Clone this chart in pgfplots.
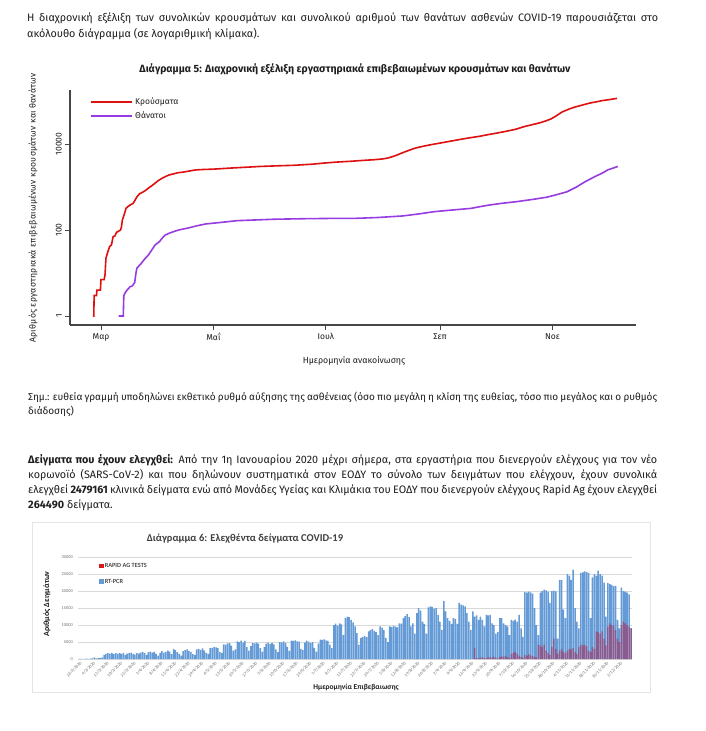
\documentclass[border=0pt]{standalone}
\usepackage{fontspec}
\setmainfont{Fira Sans}
\newfontfamily\spacedf[LetterSpace=3]{Fira Sans}
\newfontfamily\carlito{Carlito}
\usepackage{pgfplots}
\pgfplotsset{compat=1.18}
\usepackage{pgfplotstable}
\definecolor{txt}{RGB}{30,30,30}
\definecolor{axgray}{RGB}{70,70,70}
\definecolor{casered}{RGB}{222,16,16}
\definecolor{deathpurple}{RGB}{150,60,225}
\definecolor{barblue}{RGB}{100,155,215}
\definecolor{rapidred}{RGB}{175,30,75}
\definecolor{legred}{RGB}{215,25,30}
\definecolor{gridgray}{RGB}{217,217,217}
\definecolor{labgray}{RGB}{110,110,110}

\pgfplotstableread[row sep=\\]{
d v\\
0 30\\ 1 20\\ 2 40\\ 3 60\\ 4 90\\ 5 60\\ 6 120\\ 7 150\\ 8 500\\ 9 200\\ 10 300\\ 11 250\\ 12 450\\
13 1200\\ 14 1500\\ 15 1700\\ 16 1600\\ 17 1800\\ 18 1400\\ 19 1700\\ 20 1600\\ 21 1700\\ 22 1500\\
23 1800\\ 24 1200\\ 25 1600\\ 26 1700\\ 27 1900\\ 28 1500\\ 29 1300\\ 30 1700\\ 31 1600\\ 32 1900\\
33 2100\\ 34 1800\\ 35 1200\\ 36 2000\\ 37 2200\\ 38 1900\\ 39 2100\\ 40 1500\\ 41 1000\\ 42 1800\\
43 2300\\ 44 1900\\ 45 2100\\ 46 2500\\ 47 2200\\ 48 1400\\ 49 3000\\ 50 2600\\
51 2000\\ 52 1500\\ 53 1000\\ 54 2300\\ 55 2600\\ 56 2800\\ 57 2400\\ 58 2100\\ 59 1400\\ 60 1200\\
61 2800\\ 62 3000\\ 63 2700\\ 64 3100\\ 65 2500\\ 66 1800\\ 67 1500\\ 68 3200\\ 69 3300\\
70 3500\\ 71 3400\\ 72 3200\\ 73 2000\\ 74 1800\\
75 4300\\ 76 4200\\ 77 4600\\ 78 4700\\ 79 3900\\ 80 2500\\ 81 2800\\
82 5200\\ 83 5000\\ 84 5400\\ 85 4800\\ 86 5300\\ 87 3500\\ 88 2500\\ 89 3800\\
90 4700\\ 91 4600\\ 92 4800\\ 93 4500\\ 94 3200\\ 95 2200\\ 96 3500\\
97 4500\\ 98 4800\\ 99 4400\\ 100 4700\\ 101 4300\\ 102 2800\\ 103 2000\\
104 5000\\ 105 4900\\ 106 5200\\ 107 4700\\ 108 3600\\ 109 2400\\
110 5400\\ 111 5300\\ 112 5500\\ 113 5200\\ 114 5100\\ 115 3000\\ 116 2600\\
117 4800\\ 118 5400\\ 119 5100\\ 120 4700\\ 121 5000\\ 122 3300\\ 123 2200\\ 124 4500\\
125 5700\\ 126 5600\\ 127 5800\\ 128 5500\\ 129 5300\\ 130 4200\\ 131 3200\\
132 10000\\ 133 10400\\ 134 9800\\ 135 10500\\ 136 10200\\ 137 7000\\
138 12000\\ 139 12500\\ 140 12300\\ 141 11500\\ 142 10800\\ 143 9600\\
144 7600\\ 145 4200\\ 146 6200\\ 147 6500\\ 148 6700\\ 149 6400\\
150 8100\\ 151 8500\\ 152 8800\\ 153 8300\\ 154 7900\\ 155 7000\\ 156 9600\\ 157 9200\\ 158 8500\\ 159 6200\\ 160 5000\\
161 9600\\ 162 9400\\ 163 9700\\ 164 9500\\ 165 9300\\ 166 10500\\ 167 10400\\
168 12000\\ 169 12600\\ 170 13200\\ 171 12300\\ 172 9600\\ 173 10500\\ 174 7500\\
175 13500\\ 176 15000\\ 177 14200\\ 178 11000\\ 179 10300\\ 180 7500\\
181 15200\\ 182 15500\\ 183 15300\\ 184 14800\\ 185 15000\\ 186 13000\\ 187 11000\\ 188 8600\\
189 17000\\ 190 14000\\ 191 12000\\ 192 11200\\ 193 10300\\ 194 12000\\ 195 11800\\ 196 10300\\
197 16500\\ 198 16000\\ 199 15800\\ 200 15500\\ 201 13500\\ 202 11000\\ 203 8600\\
204 14000\\ 205 12500\\ 206 12800\\ 207 11500\\ 208 12500\\ 209 11500\\ 210 9600\\
211 13000\\ 212 12800\\ 213 13000\\ 214 10500\\ 215 10000\\ 216 7500\\ 217 8000\\
218 12000\\ 219 12000\\ 220 10500\\ 221 10000\\ 222 9600\\ 223 7000\\
224 11500\\ 225 11200\\ 226 11600\\ 227 11000\\ 228 13000\\ 229 9000\\ 230 6500\\
231 19700\\ 232 19500\\ 233 19800\\ 234 19600\\ 235 19200\\ 236 15000\\ 237 10000\\ 238 7000\\
239 19500\\ 240 20000\\ 241 20400\\ 242 20200\\ 243 19800\\ 244 16500\\
245 20000\\ 246 20100\\ 247 19900\\ 248 6000\\
249 23300\\ 250 23200\\ 251 14500\\ 252 12000\\
253 25000\\ 254 24500\\ 255 23300\\ 256 26300\\ 257 15000\\ 258 11000\\ 259 9000\\
260 25300\\ 261 25500\\ 262 25800\\ 263 25600\\ 264 25300\\ 265 12000\\
266 24000\\ 267 25000\\ 268 24500\\ 269 26000\\ 270 25000\\ 271 24500\\ 272 22500\\
273 12500\\ 274 22300\\ 275 22000\\ 276 21800\\ 277 21400\\ 278 21500\\ 279 11500\\ 280 9000\\
281 21000\\ 282 20000\\ 283 19800\\ 284 19500\\ 285 19000\\ 286 9100\\
}\rtpcr

\pgfplotstableread[row sep=\\]{
d v\\
205 3200\\ 206 300\\ 207 200\\ 208 400\\ 209 500\\ 210 300\\ 211 200\\ 212 500\\ 213 600\\ 214 400\\
215 700\\ 216 300\\ 217 200\\ 218 600\\ 219 800\\ 220 700\\ 221 900\\ 222 500\\ 223 300\\ 224 1500\\
225 1800\\ 226 2200\\ 227 1600\\ 228 1000\\ 229 600\\ 230 400\\ 231 1200\\ 232 1000\\ 233 1400\\ 234 1100\\
235 900\\ 236 600\\ 237 500\\ 238 4200\\ 239 4000\\ 240 3500\\ 241 4200\\ 242 2500\\ 243 1800\\ 244 1200\\
245 3500\\ 246 6000\\ 247 3000\\ 248 1500\\ 249 2500\\ 250 3000\\ 251 2200\\ 252 1800\\ 253 2500\\ 254 3000\\
255 2800\\ 256 3200\\ 257 2000\\ 258 1500\\ 259 3500\\ 260 4200\\ 261 4000\\ 262 4200\\ 263 3800\\ 264 2500\\
265 2000\\ 266 3500\\ 267 3000\\ 268 8100\\ 269 8000\\ 270 7500\\ 271 8100\\ 272 6000\\ 273 4000\\ 274 9500\\
275 10500\\ 276 10000\\ 277 9800\\ 278 8500\\ 279 6000\\ 280 5000\\ 281 10000\\ 282 11000\\ 283 10500\\ 284 10000\\
285 9500\\ 286 9000\\
}\rapid

\begin{document}
\begin{tikzpicture}[x=1pt,y=1pt]
\useasboundingbox (0,0) rectangle (706,-731);
\fill[white] (0,0) rectangle (706,-731);

% ---- paragraph 1
\begin{scope}[every node/.style={anchor=base west, inner sep=0pt, text=txt, font=\fontsize{10.8}{12}\selectfont}]
\node at (27,-21) {\makebox[631pt][s]{Η διαχρονική εξέλιξη των συνολικών κρουσμάτων και συνολικού αριθμού των θανάτων ασθενών COVID-19 παρουσιάζεται στο}};
\node at (27,-37) {ακόλουθο διάγραμμα (σε λογαριθμική κλίμακα).};
\end{scope}

% ---- chart 5 texts
\node[font=\bfseries\fontsize{10.5}{12}\selectfont, text=txt] at (355,-69) {Διάγραμμα 5: Διαχρονική εξέλιξη εργαστηριακά επιβεβαιωμένων κρουσμάτων και θανάτων};
\node[rotate=90, font=\spacedf\fontsize{8.6}{9}\selectfont, text=txt] at (33,-208) {Αριθμός εργαστηριακά επιβεβαιωμένων κρουσμάτων και θανάτων};
\node[font=\fontsize{8.8}{10}\selectfont, text=txt] at (354,-361) {Ημερομηνία ανακοίνωσης};

\begin{axis}[
  at={(70pt,-325pt)}, anchor=south west,
  scale only axis, width=566pt, height=235pt,
  xmin=-16.8, xmax=290.3,
  ymode=log, ymin=0.618, ymax=180000,
  axis x line*=bottom, axis y line*=left,
  axis line style={line width=1.5pt, color=axgray},
  xtick={0,61,122,184,245}, xticklabels={Μαρ,Μαΐ,Ιουλ,Σεπ,Νοε},
  ytick={1,100,10000}, yticklabels={1,100,10000},
  yminorticks=false, xminorticks=false,
  yticklabel style={rotate=90, anchor=south, inner sep=3pt},
  xticklabel style={inner sep=3pt},
  tick align=outside, major tick length=5pt,
  tick style={line width=0.8pt, color=axgray},
  tick label style={font=\fontsize{8.5}{9}\selectfont, text=txt},
  legend style={at={(axis description cs:0.034,0.977)}, anchor=north west, draw=none, fill=none,
    font=\fontsize{8.5}{10}\selectfont, text=txt, row sep=0pt, inner sep=0pt,
    nodes={inner sep=2.5pt}},
  legend cell align=left,
  legend image code/.code={\draw[#1, line width=2.2pt] (0pt,0pt) -- (41pt,0pt);},
]
\addplot[casered, line width=1.6pt] coordinates {
(-4.2,1) (-3.9,1) (-3.7,3) (-2.4,3) (-2.2,4) (-0.3,4) (0,7) (1.7,7) (2.2,9) (2.7,22) (3.7,31) (4.7,41) (5.7,45) (6.6,70) (7.6,73) (8.5,89) (9.1,91) (10.6,100) (11.1,117) (11.6,170) (12.6,228) (13.6,320) (14.6,350) (15.8,380) (17.5,418) (18.5,495) (19.5,590) (21,700) (22.5,750) (24.5,850) (26,960) (28,1100) (29.4,1230) (31,1400) (33.1,1590) (35,1750) (36.9,1900) (39,2000) (41.8,2150) (44,2200) (46.8,2300) (49,2400) (51.7,2500) (56,2560) (61,2600) (70,2750) (80,2900) (86,3000) (95,3100) (105,3200) (115,3400) (121,3600) (128,3800) (135,3950) (142,4150) (148,4300) (153,4500) (156,4750) (160,5400) (165,6600) (170,7900) (175,8900) (180,9800) (184,10500) (190,11700) (195,12800) (200,13900) (205,15000) (210,16500) (215,18000) (220,19800) (225,22000) (230,25600) (235,28800) (238,31000) (241,34000) (244,38000) (247,45000) (250,55000) (254,65000) (257,72000) (261,80000) (265,89000) (269,96000) (272,102000) (276,108000) (280,115000)
};
\addlegendentry{Κρούσματα}
\addplot[deathpurple, line width=1.6pt] coordinates {
(9.6,1) (12.1,1) (12.4,3) (13.5,3.7) (15.8,4.8) (17,5) (18.3,6) (19,10) (19.5,13) (22,17) (24,22) (25.7,26) (27.5,34) (29.4,45) (31.8,54) (33,63) (34.8,76) (37,84) (40.5,95) (43,102) (46.8,110) (52,125) (56.7,138) (65,150) (74,165) (85,172) (94,178) (110,183) (125,186) (138.6,187) (150,195) (163.6,212) (172,235) (180.9,267) (190,290) (200.7,318) (205,345) (210.6,380) (218,420) (225.5,456) (235,520) (242,580) (246.5,650) (252.7,770) (258,1000) (262.6,1320) (268,1750) (272,2100) (275,2500) (280.4,3000)
};
\addlegendentry{Θάνατοι}
\end{axis}

% ---- paragraph 2
\begin{scope}[every node/.style={anchor=base west, inner sep=0pt, text=txt, font=\fontsize{10}{11}\selectfont}]
\node at (28,-400) {\makebox[629pt][s]{Σημ.: ευθεία γραμμή υποδηλώνει εκθετικό ρυθμό αύξησης της ασθένειας (όσο πιο μεγάλη η κλίση της ευθείας, τόσο πιο μεγάλος και ο ρυθμός}};
\node at (28,-414) {διάδοσης)};
\end{scope}

% ---- paragraph 3
\begin{scope}[every node/.style={anchor=base west, inner sep=0pt, text=txt, font=\fontsize{10.8}{12}\selectfont}]
\node at (28,-463) {\makebox[629pt][s]{\textbf{Δείγματα που έχουν ελεγχθεί:} Από την 1η Ιανουαρίου 2020 μέχρι σήμερα, στα εργαστήρια που διενεργούν ελέγχους για τον νέο}};
\node at (28,-478) {\makebox[629pt][s]{κορωνοϊό (SARS-CoV-2) και που δηλώνουν συστηματικά στον ΕΟΔΥ το σύνολο των δειγμάτων που ελέγχουν, έχουν συνολικά}};
\node at (28,-493) {\makebox[629pt][s]{ελεγχθεί \textbf{2479161} κλινικά δείγματα ενώ από Μονάδες Υγείας και Κλιμάκια του ΕΟΔΥ που διενεργούν ελέγχους Rapid Ag έχουν ελεγχθεί}};
\node at (28,-508) {\textbf{264490} δείγματα.};
\end{scope}

% ---- chart 6 panel
\draw[gridgray!70, line width=0.6pt] (32,-522) rectangle (650,-692);
\node[font=\carlito\bfseries\fontsize{10.5}{12}\selectfont, text=txt!85] at (245,-539) {Διάγραμμα 6: Ελεχθέντα δείγματα COVID-19};
\node[rotate=90, font=\carlito\bfseries\fontsize{8}{9}\selectfont, text=txt] at (47,-604) {Αριθμός Δειγμάτων};
\node[font=\carlito\bfseries\fontsize{7.5}{8}\selectfont, text=txt] at (356,-687) {Ημερομηνία Επιβεβαιωσης};

\begin{axis}[
  at={(78pt,-659pt)}, anchor=south west,
  scale only axis, width=554pt, height=102pt,
  xmin=-0.5, xmax=286.5, ymin=0, ymax=30000,
  axis x line*=bottom, axis y line*=left,
  x axis line style={draw=gridgray, line width=0.6pt},
  y axis line style={draw=none},
  ymajorgrids, grid style={gridgray, line width=0.5pt},
  major tick length=0pt,
  scaled y ticks=false,
  ytick={0,5000,10000,15000,20000,25000,30000},
  yticklabels={0,5000,10000,15000,20000,25000,30000},
  yticklabel style={font=\carlito\fontsize{4.4}{5}\selectfont, text=labgray, inner sep=1pt, xshift=-4pt},
  xtick={0,7,...,280},
  xticklabels={26/2/2020,4/3/2020,11/3/2020,18/3/2020,25/3/2020,1/4/2020,8/4/2020,15/4/2020,22/4/2020,29/4/2020,6/5/2020,13/5/2020,20/5/2020,27/5/2020,3/6/2020,10/6/2020,17/6/2020,24/6/2020,1/7/2020,8/7/2020,15/7/2020,22/7/2020,29/7/2020,5/8/2020,12/8/2020,19/8/2020,26/8/2020,2/9/2020,9/9/2020,16/9/2020,23/9/2020,30/9/2020,7/10/2020,14/10/2020,21/10/2020,28/10/2020,4/11/2020,11/11/2020,18/11/2020,25/11/2020,2/12/2020},
  xticklabel style={rotate=45, anchor=north east, font=\carlito\fontsize{4.4}{5}\selectfont, text=labgray, inner sep=1pt, yshift=-1pt},
  legend style={at={(axis description cs:0.038,0.95)}, anchor=north west, draw=none, fill=none,
    font=\carlito\bfseries\fontsize{6.3}{7}\selectfont, text=txt!80, row sep=8pt, inner sep=0pt,
    nodes={inner sep=1pt}},
  legend cell align=left,
  legend image code/.code={\path[#1, draw=none] (0pt,-2pt) rectangle (4.5pt,2.5pt);},
]
\addplot[ybar, bar width=0.78, bar shift=0pt, fill=barblue, draw=none, forget plot] table[x=d, y=v] {\rtpcr};
\addplot[ybar, bar width=0.78, bar shift=0pt, fill=rapidred, fill opacity=0.5, draw=none, forget plot] table[x=d, y=v] {\rapid};
\addlegendimage{fill=legred}
\addlegendentry{RAPID AG TESTS}
\addlegendimage{fill=barblue}
\addlegendentry{RT-PCR}
\end{axis}
\end{tikzpicture}
\end{document}
